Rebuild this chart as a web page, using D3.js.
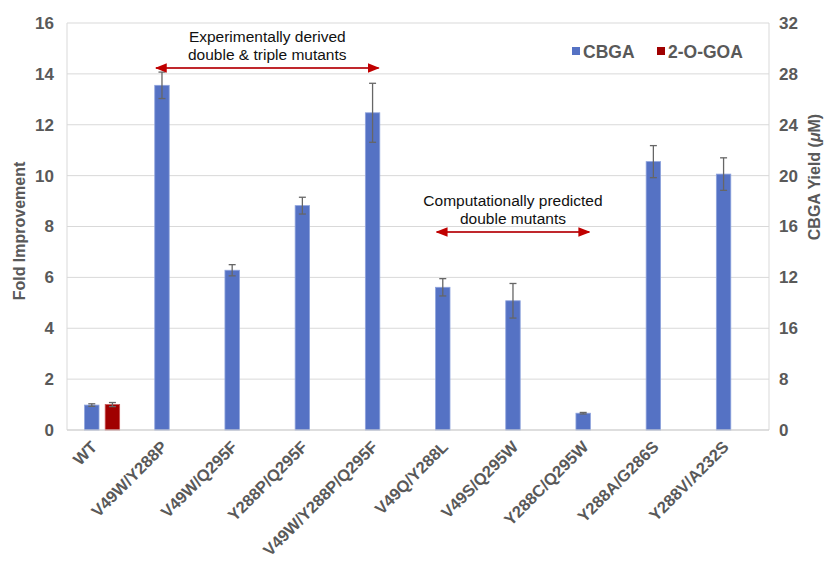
<!DOCTYPE html>
<html><head><meta charset="utf-8">
<script src="https://cdn.jsdelivr.net/npm/d3@7"></script>
<style>body{margin:0;background:#fff}svg{display:block}</style>
</head><body>
<svg id="c" width="825" height="563"></svg>
<script>
const categories = ["WT","V49W/Y288P","V49W/Q295F","Y288P/Q295F","V49W/Y288P/Q295F","V49Q/Y288L","V49S/Q295W","Y288C/Q295W","Y288A/G286S","Y288V/A232S"];
const seriesNames = ["CBGA","2-O-GOA"];
const cbgaValues = [0.98,13.55,6.28,8.82,12.47,5.61,5.08,0.66,10.55,10.06];
const cbgaErrors = [0.05,0.52,0.22,0.33,1.16,0.34,0.68,0.03,0.63,0.64];
const goaValues = [1.0,0,0,0,0,0,0,0,0,0];
const goaErrors = [0.08,0,0,0,0,0,0,0,0,0];
const leftTicks = [0,2,4,6,8,10,12,14,16];
const rightTickLabels = ["0","8","16","12","16","20","24","28","32"];
const annotations = [
  {lines:["Experimentally derived","double & triple mutants"], from:"V49W/Y288P", to:"V49W/Y288P/Q295F"},
  {lines:["Computationally predicted","double mutants"], from:"V49Q/Y288L", to:"Y288C/Q295W"}
];

const colors = {"CBGA":"#5572c4","2-O-GOA":"#a00000"};
const strokes = {"CBGA":"#8ea3dd","2-O-GOA":"#c85555"};
const svg = d3.select("#c");
const L=67, R=769, T=23, B=430;
const font = "'Liberation Sans', Arial, Helvetica, sans-serif";

const y = d3.scaleLinear().domain([0,16]).range([B,T]);
const x0 = d3.scaleBand().domain(categories).range([L,R]).paddingInner(0.5).paddingOuter(0.25);
const x1 = d3.scaleBand().domain(seriesNames).range([0,x0.bandwidth()]).paddingInner(0.3);

// gridlines
svg.append("g").selectAll("line").data(leftTicks).join("line")
  .attr("x1",L).attr("x2",R).attr("y1",d=>y(d)).attr("y2",d=>y(d))
  .attr("stroke","#d9d9d9").attr("stroke-width",1);
// side axis lines
svg.append("line").attr("x1",L).attr("x2",L).attr("y1",T).attr("y2",B).attr("stroke","#d9d9d9");
svg.append("line").attr("x1",R).attr("x2",R).attr("y1",T).attr("y2",B).attr("stroke","#d9d9d9");

// left axis
const la = svg.append("g").attr("transform",`translate(${L},0)`)
  .call(d3.axisLeft(y).tickValues(leftTicks).tickSize(0).tickPadding(13).tickFormat(d3.format("d")));
la.select(".domain").remove();
la.selectAll("text").attr("font-family",font).attr("font-size",17).attr("font-weight","bold").attr("fill","#595959");

// right axis
const ra = svg.append("g").attr("transform",`translate(${R},0)`)
  .call(d3.axisRight(y).tickValues(leftTicks).tickSize(0).tickPadding(10).tickFormat((d,i)=>rightTickLabels[i]));
ra.select(".domain").remove();
ra.selectAll("text").attr("font-family",font).attr("font-size",17).attr("font-weight","bold").attr("fill","#595959");

// bars
const rows = categories.map((c,i)=>({c, vals:[
  {s:"CBGA", v:cbgaValues[i], e:cbgaErrors[i]},
  {s:"2-O-GOA", v:goaValues[i], e:goaErrors[i]}]}));
const g = svg.append("g");
const grp = g.selectAll("g").data(rows).join("g").attr("transform",d=>`translate(${x0(d.c)},0)`);
grp.selectAll("rect").data(d=>d.vals.filter(v=>v.v>0)).join("rect")
  .attr("x",d=>x1(d.s)).attr("width",x1.bandwidth())
  .attr("y",d=>y(d.v)).attr("height",d=>y(0)-y(d.v))
  .attr("fill",d=>colors[d.s]).attr("stroke",d=>strokes[d.s]).attr("stroke-width",0.8);
// error bars
const eb = grp.selectAll("g.eb").data(d=>d.vals.filter(v=>v.v>0)).join("g").attr("class","eb")
  .attr("transform",d=>`translate(${x1(d.s)+x1.bandwidth()/2},0)`);
eb.append("line").attr("x1",0).attr("x2",0).attr("y1",d=>y(d.v+d.e)).attr("y2",d=>y(d.v-d.e)).attr("stroke","#666").attr("stroke-width",1.3);
eb.append("line").attr("x1",-3.5).attr("x2",3.5).attr("y1",d=>y(d.v+d.e)).attr("y2",d=>y(d.v+d.e)).attr("stroke","#666").attr("stroke-width",1.3);
eb.append("line").attr("x1",-3.5).attr("x2",3.5).attr("y1",d=>y(d.v-d.e)).attr("y2",d=>y(d.v-d.e)).attr("stroke","#666").attr("stroke-width",1.3);

// baseline
svg.append("line").attr("x1",L).attr("x2",R).attr("y1",B).attr("y2",B).attr("stroke","#d0d0d0");

// x labels
svg.append("g").selectAll("text").data(categories).join("text")
  .attr("transform",d=>`translate(${x0(d)+x0.bandwidth()/2-4},${B+18}) rotate(-45)`)
  .attr("text-anchor","end")
  .attr("font-family",font).attr("font-size",16.5).attr("font-weight","bold").attr("fill","#595959")
  .text(d=>d);

// axis titles
svg.append("text").attr("transform","translate(25,231) rotate(-90)").attr("text-anchor","middle")
  .attr("font-family",font).attr("font-size",16).attr("font-weight","bold").attr("fill","#595959").text("Fold Improvement");
const rt = svg.append("text").attr("transform","translate(820,177) rotate(-90)").attr("text-anchor","middle")
  .attr("font-family",font).attr("font-size",16).attr("font-weight","bold").attr("fill","#595959");
rt.append("tspan").text("CBGA Yield (");
rt.append("tspan").attr("font-style","italic").text("\u03bc");
rt.append("tspan").text("M)");

// legend
const lg = svg.append("g");
const legX = [572, 657];
seriesNames.forEach((s,i)=>{
  lg.append("rect").attr("x",legX[i]).attr("y",47).attr("width",8).attr("height",8).attr("fill",colors[s]);
  lg.append("text").attr("x",legX[i]+11).attr("y",57.5).attr("font-family",font).attr("font-size",17.5)
    .attr("font-weight","bold").attr("fill","#595959").text(s);
});

// annotations
const defs = svg.append("defs");
defs.append("marker").attr("id","ah").attr("viewBox","0 0 10 10").attr("refX",9).attr("refY",5)
  .attr("markerWidth",6).attr("markerHeight",6).attr("orient","auto-start-reverse")
  .append("path").attr("d","M0,1 L10,5 L0,9 Z").attr("fill","#c00000");
const annY = [{ly:68, ty:[42,60]},{ly:232, ty:[206,224]}];
annotations.forEach((a,i)=>{
  const xa = x0(a.from)+x1("CBGA")+x1.bandwidth()/2 - 6;
  const xb = x0(a.to)+x1("CBGA")+x1.bandwidth()/2 + 6;
  svg.append("line").attr("x1",xa).attr("x2",xb).attr("y1",annY[i].ly).attr("y2",annY[i].ly)
    .attr("stroke","#c0282d").attr("stroke-width",2)
    .attr("marker-start","url(#ah)").attr("marker-end","url(#ah)");
  a.lines.forEach((t,j)=>{
    svg.append("text").attr("x",(xa+xb)/2).attr("y",annY[i].ty[j]).attr("text-anchor","middle")
      .attr("font-family",font).attr("font-size",15.5).attr("fill","#111").text(t);
  });
});
</script>
</body></html>
